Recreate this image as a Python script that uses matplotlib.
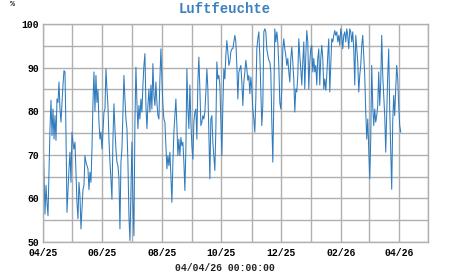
import matplotlib
matplotlib.use("Agg")
import matplotlib.pyplot as plt
import matplotlib.dates as mdates
import pandas as pd

title = "Luftfeuchte"
unit = "%"
stamp = "04/04/26 00:00:00"
start_date = "2025-04-01"
end_date = "2026-04-03"
x_min = "2025-04-01"
x_max = "2026-05-01"

apr_may_2025 = [74.8, 66, 56.4, 63, 59, 56, 66, 76, 82.5, 74.4, 80.5, 73.6, 79, 73.3, 82.8,
                82, 86.7, 80.5, 77.5, 82, 86, 89.3, 89, 75, 56.8, 62, 66.8, 70.6, 63.7, 75.2,
                72.9, 71.3, 72.9, 66, 59, 55.3, 63.7, 60.6, 53, 57.5, 62, 63, 69.8, 68.3, 67.5,
                66.8, 62, 66, 63.7, 71.3, 82, 89, 80, 88.2, 82, 85, 77.5, 73.6, 75.2, 71.3]
jun_jul_2025 = [75.2, 79.8, 80.5, 89.7, 85.1, 81.3, 73.6, 68.3, 64.5, 59.8, 73.6, 81.7, 76, 71.3,
                68.3, 67.5, 64.5, 53, 68.3, 71.3, 79.8, 88.2, 82.8, 78.2, 76, 68.3, 56, 50.3,
                62.1, 72.9, 59.1, 51.4, 77.5, 90.1, 82, 76, 81.3, 78.2, 82.8, 79.8, 86, 90.5,
                93.2, 81.3, 76, 81.3, 85.1, 79.8, 86, 80.5, 90.9, 83.6, 81.3, 86.7, 82, 79,
                78.2, 87.4, 94.3, 87.4, 81.3, 78.2, 77.5, 72.1, 66.8]
aug_sep_2025 = [69.8, 67.5, 70.6, 65.2, 59.1, 68.3, 75.2, 79, 82.8, 76.7, 69.8, 73.6, 69.8, 74,
                72.1, 72.9, 68.3, 61.8, 71.3, 89.7, 80.5, 76, 86, 77.5, 72.1, 69, 77.5, 79.8,
                80.5, 73.6, 86.7, 92.4, 85.1, 76.7, 77.5, 79, 78.2, 79.8, 84.4, 89.7, 85.1,
                75.2, 64.5, 78.2, 79, 72.9, 69.8, 66.4, 76, 91.3, 87.4, 88.2, 86, 77.5, 69.8,
                81.3, 89.7, 87.4, 92.8, 96.2, 93.6, 90.5, 91.3, 93.6, 94.3]
oct_nov_2025 = [94.3, 95.9, 97.4, 95.9, 90.5, 82.8, 89, 89.7, 90.5, 86.7, 81.3, 86.7, 89, 91.7,
                89.7, 87.1, 88.2, 84, 87.8, 85.1, 80.5, 78.2, 75.2, 82.8, 94.3, 96.6, 98.2,
                92.8, 85.1, 76.7, 81.3, 98.2, 98.9, 98.2, 94.3, 92.8, 91.7, 91.3, 89, 77.5,
                68.3, 82, 98.9, 95.9, 98.2, 95.9, 90.5, 82, 80.5, 85.1, 94.3, 96.6, 94.3, 92.8,
                90.5, 92.1, 89, 86.7, 92.1, 94.7, 91.3, 87.4, 79.8, 85.1]
dec_jan_2026 = [84.4, 88.2, 96.6, 92.8, 89.7, 86, 91.3, 95.9, 85.1, 92.8, 98.5, 95.9, 85.1, 91.3,
                94.3, 95.1, 89, 92.1, 89, 90.5, 86, 92.1, 94.3, 86, 92.1, 95.1, 92.1, 85.1,
                87.4, 84.8, 88.2, 92.8, 96.6, 84.4, 90.5, 96.6, 95.9, 97.4, 98.5, 97.4, 98.2,
                95.9, 97.4, 95.1, 98.9, 97.4, 94.3, 97.4, 98.2, 95.9, 98.9, 97.4, 94.3, 98.9,
                98.2, 95.9, 98.2, 94.3, 86, 97.4, 94.3, 91.3, 84.4, 88.2]
feb_apr_2026 = [90.5, 95.1, 97.4, 92.8, 88.2, 79.8, 73.6, 78.2, 71.3, 64.5, 73.6, 90.5, 81.3,
                76.7, 80.5, 77.5, 79, 81.3, 89, 81.3, 86.7, 97.4, 88.2, 83.6, 79, 70.6, 79,
                88.2, 94.3, 80.5, 71.3, 62.1, 77.5, 83.6, 79, 85.1, 90.5, 87.4, 81.3, 76.7, 75.2]

values = apr_may_2025 + jun_jul_2025 + aug_sep_2025 + oct_nov_2025 + dec_jan_2026 + feb_apr_2026
dates = pd.date_range(start_date, end_date, periods=len(values))

mono = "Liberation Mono"
fig = plt.figure(figsize=(4.51, 2.75), dpi=100)
ax = fig.add_axes([43 / 451, 1 - 242 / 275, 385 / 451, 218 / 275])
ax.plot(dates, values, color="#2f7bbd", linewidth=0.75)

ax.set_xlim(pd.Timestamp(x_min), pd.Timestamp(x_max))
ax.set_ylim(50, 100)
ax.yaxis.set_major_locator(plt.MultipleLocator(10))
ax.yaxis.set_minor_locator(plt.MultipleLocator(5))
ax.xaxis.set_major_locator(mdates.MonthLocator(bymonth=[2, 4, 6, 8, 10, 12]))
ax.xaxis.set_minor_locator(mdates.MonthLocator())
ax.xaxis.set_major_formatter(mdates.DateFormatter("%m/%y"))
ax.grid(True, which="both", color="#b0b0b0", linewidth=1.0)
ax.set_axisbelow(True)
for s in ax.spines.values():
    s.set_color("#b0b0b0")
    s.set_linewidth(1.0)
ax.tick_params(which="both", length=0)
ax.tick_params(axis="y", pad=3)
ax.tick_params(axis="x", pad=4)
for lab in ax.get_xticklabels() + ax.get_yticklabels():
    lab.set_fontfamily(mono)
    lab.set_fontweight("bold")
    lab.set_fontsize(7)

fig.text(225 / 451, 1 - 9 / 275, title, ha="center", va="center", fontfamily=mono,
         fontweight="bold", fontsize=10, color="#3a80c0")
fig.text(13 / 451, 1 - 5 / 275, unit, ha="center", va="center", fontfamily=mono,
         fontweight="bold", fontsize=6, color="#333333")
fig.text(225 / 451, 1 - 268 / 275, stamp, ha="center", va="center", fontfamily=mono,
         fontweight="bold", fontsize=7, color="#222222")

fig.savefig("out.png", dpi=100)
